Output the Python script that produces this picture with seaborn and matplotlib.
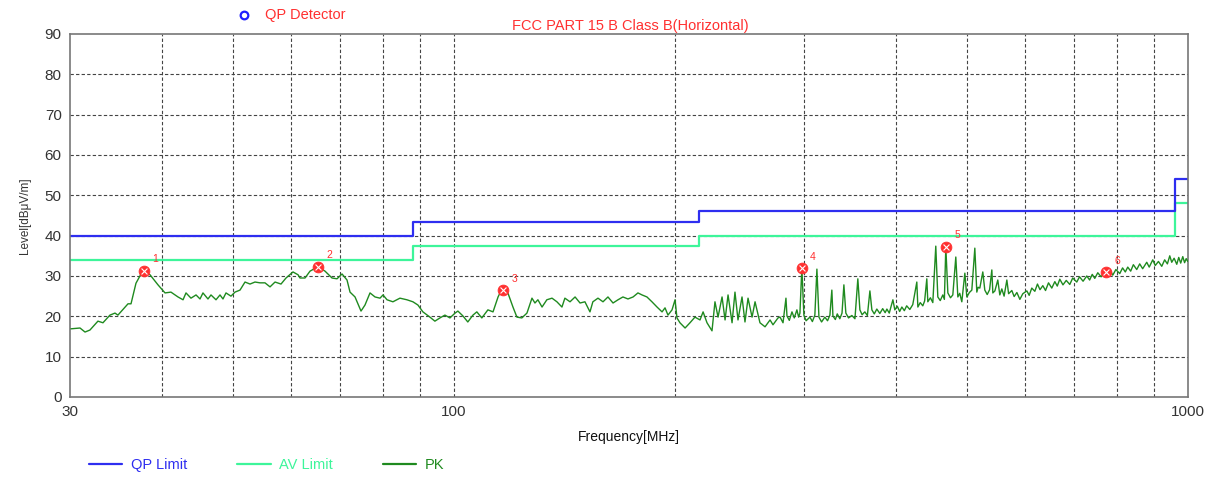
import matplotlib
matplotlib.use("Agg")
import matplotlib.pyplot as plt
import seaborn as sns
import pandas as pd
from matplotlib.lines import Line2D
from matplotlib.ticker import FixedLocator, NullLocator

# limit lines (step edges, MHz / dBuV/m)
limit_freq = [30, 88, 216, 960, 1000]
qp_limit = [40, 43.5, 46, 54, 54]
av_limit = [34, 37.5, 40, 48, 48]

# PK scan
pk_freq = [
    30.09, 30.96, 31.45, 31.94, 32.75, 33.27, 34.01, 34.55, 34.87, 35.99,
    36.33, 36.90, 37.49, 37.96, 38.56, 39.54, 40.42, 41.18, 42.10, 42.77,
    43.17, 43.85, 44.55, 45.11, 45.53, 46.25, 46.69, 47.43, 48.03, 48.48,
    48.94, 49.71, 50.34, 51.14, 51.95, 52.77, 53.60, 54.45, 55.31, 56.19,
    57.08, 58.16, 59.08, 60.39, 61.35, 61.73, 62.71, 63.70, 65.32, 66.77,
    68.25, 69.33, 70.43, 71.54, 72.22, 73.36, 74.75, 75.69, 76.89, 78.11,
    79.34, 80.09, 81.11, 82.62, 84.46, 86.33, 87.97, 89.36, 90.77, 92.79,
    94.25, 95.75, 97.26, 98.80, 100.4, 101.3, 102.9, 104.5, 106.2, 107.5,
    109.2, 111.3, 113.1, 114.9, 116.3, 118.5, 120.4, 121.9, 123.8, 125.8,
    127.8, 129.0, 130.2, 131.9, 133.9, 136.1, 138.2, 140.4, 141.7, 144.0,
    146.3, 148.6, 150.9, 153.3, 154.7, 157.2, 159.7, 162.2, 164.8, 167.4,
    170.0, 172.7, 175.5, 178.2, 180.5, 183.3, 186.2, 189.2, 192.2, 194.0,
    195.8, 198.3, 200.2, 201.4, 203.3, 206.6, 209.8, 213.1, 216.5, 218.6,
    221.3, 224.8, 226.9, 229.1, 232.0, 234.2, 236.4, 239.4, 241.6, 243.9,
    247.0, 249.3, 251.7, 254.9, 257.3, 261.3, 265.5, 269.7, 272.2, 276.5,
    278.3, 280.9, 283.5, 284.4, 286.5, 288.9, 291.0, 293.4, 295.0, 296.2,
    298.0, 299.9, 302.0, 305.6, 308.0, 310.4, 312.4, 314.4, 317.0, 320.3,
    323.0, 325.4, 327.4, 328.5, 331.0, 333.0, 335.7, 338.0, 340.0, 342.1,
    345.0, 348.6, 352.0, 355.2, 357.5, 360.0, 363.1, 366.0, 368.9, 371.2,
    374.0, 377.0, 380.6, 384.0, 387.0, 389.1, 392.0, 396.5, 398.9, 402.0,
    405.0, 407.8, 411.0, 414.0, 418.1, 422.0, 427.4, 428.8, 432.0, 435.5,
    438.0, 441.0, 442.4, 446.0, 449.4, 453.6, 456.5, 460.0, 463.7, 466.0,
    468.1, 471.1, 475.0, 478.5, 483.0, 486.1, 489.0, 492.2, 496.9, 500.0,
    504.0, 507.9, 512.7, 515.9, 518.0, 520.8, 525.7, 529.0, 533.0, 537.0,
    540.8, 542.5, 546.0, 551.0, 554.5, 558.0, 562.0, 566.9, 570.0, 575.8,
    580.0, 585.0, 590.5, 596.0, 603.6, 608.0, 613.0, 618.9, 624.0, 629.0,
    634.6, 640.0, 646.0, 652.7, 659.0, 664.0, 669.3, 676.0, 683.0, 690.6,
    697.0, 705.9, 712.0, 720.0, 728.4, 735.0, 741.0, 746.9, 754.0, 762.0,
    770.7, 778.0, 784.0, 790.3, 798.0, 807.8, 815.0, 822.0, 828.3, 836.0,
    843.0, 852.0, 860.0, 868.0, 879.2, 886.0, 895.9, 903.0, 912.0, 921.6,
    930.0, 938.0, 945.0, 950.9, 958.0, 966.0, 972.0, 978.0, 984.4, 990.0,
    995.0, 1000.0,
]
pk_level = [
    16.9, 17.1, 16.1, 16.6, 18.8, 18.4, 20.3, 20.8, 20.3, 23.1,
    23.1, 28.2, 30.5, 31.2, 30.3, 27.8, 25.8, 26.0, 24.8, 24.1,
    25.8, 24.5, 25.3, 24.3, 25.8, 24.3, 25.3, 24.1, 25.3, 24.3,
    25.8, 25.0, 26.0, 26.5, 28.5, 28.0, 28.5, 28.3, 28.3, 27.3,
    28.5, 28.0, 29.5, 31.0, 30.3, 29.5, 29.5, 31.2, 32.3, 31.2,
    29.5, 29.3, 30.5, 29.0, 26.0, 24.8, 21.3, 22.8, 25.8, 24.8,
    24.5, 25.3, 24.1, 23.6, 24.5, 24.1, 23.6, 22.8, 21.1, 19.8,
    18.8, 19.6, 20.3, 19.6, 20.8, 21.3, 20.1, 18.6, 20.3, 21.1,
    19.6, 21.6, 21.1, 24.8, 26.8, 25.8, 22.3, 19.8, 19.6, 20.8,
    24.5, 23.3, 24.1, 22.3, 24.1, 24.5, 23.6, 22.3, 24.5, 23.6,
    24.8, 23.3, 23.6, 21.1, 23.6, 24.5, 23.6, 24.8, 23.3, 24.1,
    24.8, 24.3, 24.8, 25.8, 25.3, 24.8, 23.6, 22.3, 21.1, 22.1,
    20.3, 21.6, 24.1, 19.6, 18.4, 17.1, 18.4, 19.8, 19.1, 21.1,
    18.4, 16.4, 23.6, 19.8, 24.8, 19.1, 25.3, 18.4, 26.0, 19.1,
    24.8, 18.6, 24.5, 19.8, 23.6, 18.4, 17.4, 19.1, 17.9, 19.6,
    19.8, 18.4, 24.5, 20.1, 19.0, 21.1, 19.6, 21.6, 19.8, 20.8,
    32.0, 20.3, 18.9, 19.8, 18.7, 20.3, 31.7, 19.8, 18.6, 19.8,
    18.9, 20.3, 26.5, 20.1, 19.2, 20.6, 19.4, 20.8, 27.8, 20.8,
    19.6, 20.2, 19.4, 29.3, 21.6, 20.4, 21.1, 20.2, 26.3, 21.6,
    20.6, 21.8, 20.7, 21.9, 20.9, 21.8, 20.8, 24.1, 21.6, 22.5,
    21.2, 22.3, 21.4, 22.6, 21.7, 22.9, 28.5, 22.3, 23.4, 22.6,
    23.8, 29.3, 23.6, 24.6, 23.4, 37.4, 24.8, 23.9, 25.3, 24.2,
    37.2, 25.8, 24.6, 25.3, 34.7, 24.8, 25.7, 23.6, 30.7, 24.8,
    25.9, 26.5, 36.9, 26.0, 27.2, 27.0, 31.0, 26.5, 25.4, 26.6,
    31.5, 25.8, 26.3, 29.0, 25.3, 26.8, 25.0, 29.0, 25.6, 26.4,
    24.9, 25.9, 24.2, 25.6, 26.3, 25.2, 27.0, 26.2, 28.0, 26.6,
    27.6, 26.4, 28.3, 27.0, 28.6, 27.5, 29.2, 27.8, 28.9, 27.9,
    29.5, 28.5, 29.8, 28.7, 30.0, 29.0, 30.4, 29.4, 30.8, 29.8,
    31.1, 30.0, 31.4, 30.2, 31.6, 30.6, 32.0, 31.0, 32.2, 31.2,
    32.8, 31.6, 33.0, 31.8, 33.4, 32.2, 34.0, 32.6, 33.6, 32.4,
    34.0, 33.0, 35.0, 33.4, 34.4, 32.9, 34.6, 33.2, 34.8, 33.3,
    34.3, 33.6,
]

# QP detector marks
mark_no = ["1", "2", "3", "4", "5", "6"]
mark_freq = [37.8, 65.3, 116.7, 298.0, 468.1, 773.0]
mark_level = [31.3, 32.3, 26.5, 32.0, 37.3, 31.0]

x_ticks = [30, 100, 1000]
y_ticks = list(range(0, 91, 10))
grid_x = [40, 50, 60, 70, 80, 90, 100, 200, 300, 400, 500, 600, 700, 800, 900]

sns.set_style("white")
plt.rcParams["font.family"] = ["Liberation Sans", "DejaVu Sans"]

QP_C = "#2e2ef0"
AV_C = "#3df59a"
PK_C = "#1f8a1f"
RED = "#ff3030"

fig = plt.figure(figsize=(12.17, 4.78), dpi=100)
ax = fig.add_axes([0.0575, 0.1695, 0.9185, 0.7594])

lim = pd.DataFrame({"freq": limit_freq, "qp": qp_limit, "av": av_limit})
pk = pd.DataFrame({"freq": pk_freq, "level": pk_level})

sns.lineplot(data=pk, x="freq", y="level", ax=ax, color=PK_C, lw=1.0,
             estimator=None, sort=False, zorder=3)
sns.lineplot(data=lim, x="freq", y="av", ax=ax, color=AV_C, lw=1.6,
             drawstyle="steps-post", estimator=None, zorder=2)
sns.lineplot(data=lim, x="freq", y="qp", ax=ax, color=QP_C, lw=1.6,
             drawstyle="steps-post", estimator=None, zorder=2)

sns.scatterplot(x=mark_freq, y=mark_level, ax=ax, marker="o", s=60,
                color=RED, edgecolor=RED, zorder=5)
ax.scatter(mark_freq, mark_level, marker="x", s=18, color="white",
           linewidths=0.8, zorder=6)
for n, f, v in zip(mark_no, mark_freq, mark_level):
    ax.annotate(n, (f, v), xytext=(6, 6), textcoords="offset points",
                color=RED, fontsize=7.5)

ax.set_xscale("log")
ax.set_xlim(30, 1000)
ax.set_ylim(0, 90)
ax.xaxis.set_major_locator(FixedLocator(x_ticks))
ax.xaxis.set_minor_locator(NullLocator())
ax.set_xticklabels([str(t) for t in x_ticks])
ax.set_yticks(y_ticks)
ax.tick_params(axis="both", length=0, labelsize=11, labelcolor="#333333", pad=6)

for g in grid_x:
    ax.axvline(g, color="#444444", lw=0.8, ls=(0, (3, 2)), zorder=1)
for g in y_ticks[1:-1]:
    ax.axhline(g, color="#444444", lw=0.8, ls=(0, (3, 2)), zorder=1)

for s in ax.spines.values():
    s.set_color("#777777")
    s.set_linewidth(1.2)

ax.set_xlabel("Frequency[MHz]", fontsize=10, color="#111111", labelpad=8)
ax.set_ylabel("Level[dB\u03bcV/m]", fontsize=8.5, color="#333333", labelpad=10)

fig.text(0.5177, 0.946, "FCC PART 15 B Class B(Horizontal)", color=RED,
         fontsize=10.5, ha="center", va="center")
fig.text(0.218, 0.968, "QP Detector", color=RED, fontsize=10.5,
         ha="left", va="center")
fig.add_artist(Line2D([0.2005], [0.968], marker="o", ms=5.5, mfc="none",
                      mec="#2020ff", mew=1.6, transform=fig.transFigure))

handles = [Line2D([], [], color=QP_C, lw=1.6),
           Line2D([], [], color=AV_C, lw=1.6),
           Line2D([], [], color=PK_C, lw=1.6)]
leg = fig.legend(handles, ["QP Limit", "AV Limit", "PK"], loc="center left",
                 bbox_to_anchor=(0.073, 0.027), ncol=3, frameon=False,
                 fontsize=10.5, handlelength=2.3, handletextpad=0.6,
                 columnspacing=3.4, borderpad=0, borderaxespad=0)
for t, c in zip(leg.get_texts(), [QP_C, AV_C, PK_C]):
    t.set_color(c)

fig.savefig("out.png", dpi=100)
